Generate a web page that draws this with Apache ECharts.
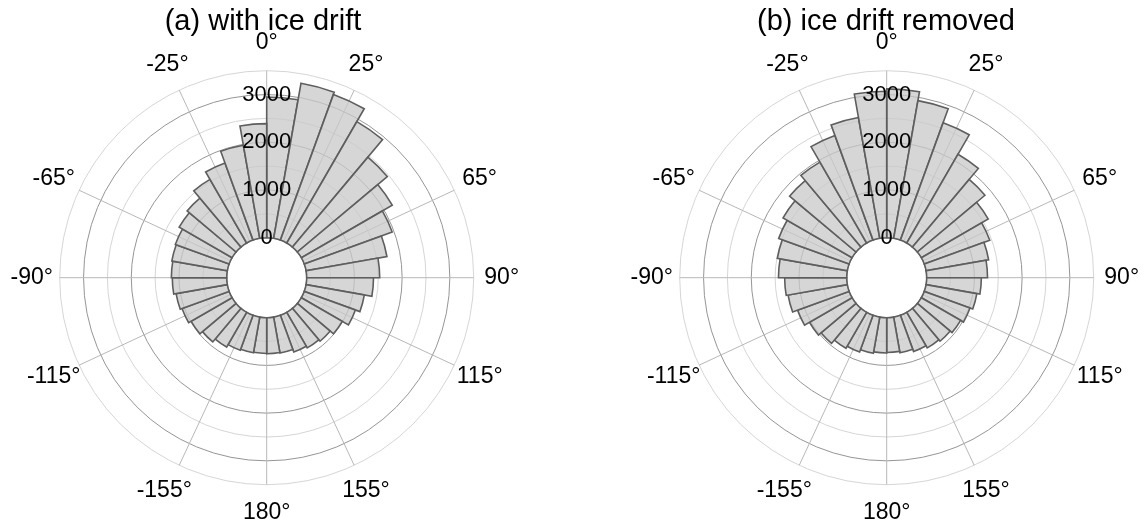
<!DOCTYPE html>
<html><head><meta charset="utf-8">
<script src="https://cdn.jsdelivr.net/npm/echarts@6/dist/echarts.min.js"></script>
<style>html,body{margin:0;padding:0;background:#fff}#c{width:1146px;height:532px}</style>
</head><body><div id="c"></div>
<script>
// ---- data ----
const binAngles = [5,15,25,35,45,55,65,75,85,95,105,115,125,135,145,155,165,175,
                   185,195,205,215,225,235,245,255,265,275,285,295,305,315,325,335,345,355];
const countsWithDrift = [2950,3300,3250,2940,2460,2200,1960,1720,1530,1400,1240,1140,990,900,860,820,765,755,
                         750,760,780,840,920,990,1050,1090,1140,1160,1180,1200,1280,1340,1540,1720,1980,2390];
const countsDriftRemoved = [3120,2930,2620,2150,1850,1620,1460,1330,1275,1145,1080,1020,950,900,860,810,760,730,
                            740,770,820,870,960,1030,1150,1260,1300,1430,1490,1570,1670,1820,1960,2335,2570,3070];
const angleTicks = [0,25,65,90,115,155,180,205,245,270,295,335];
const radiusMax = 3500;
const radiusStep = 500;
const radiusLabelStep = 1000;
const titles = ['(a) with ice drift', '(b) ice drift removed'];

// ---- layout / style ----
const FONT = '"Liberation Sans", Arial, Helvetica, sans-serif';
const R_IN = 40, R_OUT = 207, LABEL_R = 235, MARGIN = -30, FS = 23, LH = 23;
const centers = [[266.7, 277.7], [886.7, 277.7]];
const titleX = [263, 886];

const ctx = document.createElement('canvas').getContext('2d');
ctx.font = FS + 'px ' + FONT;
function fmtAngle(v) { const d = v > 180 ? v - 360 : v; return d + '\u00b0'; }
const rich = {};
angleTicks.forEach(v => {
  const t = fmtAngle(v);
  const w = ctx.measureText(t).width;
  const a = v * Math.PI / 180, s = Math.sin(a), c = Math.cos(a);
  const P = R_OUT + MARGIN, d = LABEL_R - P;
  const pad = [0, 0, 0, 0];
  if (Math.abs(P * s) / R_OUT >= 0.3) {
    const p = Math.max(0, d * Math.abs(s) - w / 2);
    if (s > 0) pad[3] = p; else pad[1] = p;
  }
  if (Math.abs(P * c) / R_OUT >= 0.3) {
    const p = Math.max(0, d * Math.abs(c) - LH / 2);
    if (c > 0) pad[2] = p; else pad[0] = p;
  }
  rich['a' + v] = { fontSize: FS, fontFamily: FONT, color: '#000', padding: pad };
});

const polar = [], angleAxis = [], radiusAxis = [], series = [];
[countsWithDrift, countsDriftRemoved].forEach((vals, k) => {
  // grid + bars
  polar.push({ center: centers[k], radius: [R_IN, R_OUT] });
  angleAxis.push({
    polarIndex: k, type: 'value', min: 0, max: 360, startAngle: 90, clockwise: true,
    axisLine: { show: false },
    axisTick: { show: false, customValues: angleTicks },
    axisLabel: { show: true, customValues: angleTicks, margin: MARGIN,
      formatter: v => '{a' + v + '|' + fmtAngle(v) + '}', rich: rich },
    splitLine: { show: true, lineStyle: { color: '#b8b8b8', width: 1 } }
  });
  radiusAxis.push({
    polarIndex: k, type: 'value', min: 0, max: radiusMax, interval: radiusStep,
    axisLine: { show: false }, axisTick: { show: false }, axisLabel: { show: false },
    splitLine: { show: true, lineStyle: { color: ['#969696', '#d6d6d6'], width: 1 } }
  });
  series.push({
    type: 'bar', coordinateSystem: 'polar', polarIndex: k, silent: true,
    barCategoryGap: '0%',
    data: vals.map((v, i) => [v, binAngles[i]]),
    itemStyle: { color: 'rgba(200,200,200,0.75)', borderColor: '#5e5e5e', borderWidth: 1.6 }
  });
});
[0, 1].forEach(k => {
  // overlay for radial labels drawn above bars
  polar.push({ center: centers[k], radius: [R_IN, R_OUT] });
  angleAxis.push({ polarIndex: 2 + k, type: 'value', min: 0, max: 360, startAngle: 90, show: false });
  radiusAxis.push({
    polarIndex: 2 + k, type: 'value', min: 0, max: radiusMax, interval: radiusStep, z: 10,
    axisLine: { show: false }, axisTick: { show: false }, splitLine: { show: false },
    axisLabel: { margin: 0, align: 'center', verticalAlign: 'middle', fontSize: 22, fontFamily: FONT, color: '#000',
      formatter: v => (v % radiusLabelStep === 0 && v < radiusMax) ? String(v) : '' }
  });
});

const chart = echarts.init(document.getElementById('c'));
chart.setOption({
  animation: false,
  backgroundColor: '#fff',
  title: titles.map((t, k) => ({
    text: t, left: titleX[k] - 5, top: 2, textAlign: 'center',
    textStyle: { fontSize: 29, fontWeight: 'normal', fontFamily: FONT, color: '#000' }
  })),
  polar, angleAxis, radiusAxis, series
});
</script>
</body></html>
